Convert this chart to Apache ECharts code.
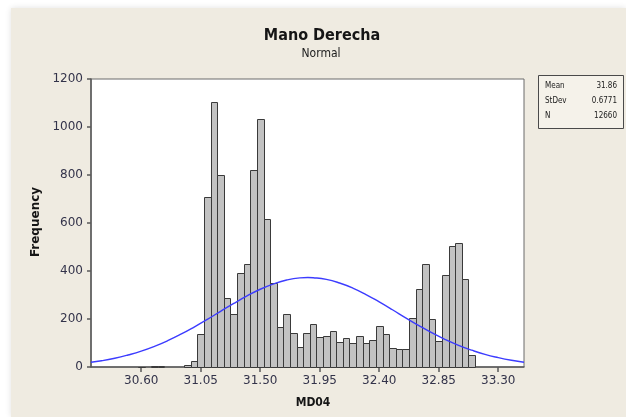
<!DOCTYPE html>
<html>
<head>
<meta charset="utf-8">
<script src="https://cdn.jsdelivr.net/npm/echarts@6/dist/echarts.min.js"></script>
<style>
  html, body { margin:0; padding:0; background:#ffffff; }
  #panel { position:absolute; left:11px; top:8px; width:615px; height:409px; background:#efebe1; box-shadow:0 0 6px rgba(0,0,0,0.12); }
  #chart { position:absolute; left:0; top:0; width:626px; height:417px; }
</style>
</head>
<body>
<div id="panel"></div>
<div id="chart"></div>
<script>
// ---- data ----
var binCenters = [30.60, 30.65, 30.70, 30.75, 30.80, 30.85, 30.90, 30.95, 31.00,
  31.05, 31.10, 31.15, 31.20, 31.25, 31.30, 31.35, 31.40, 31.45, 31.50,
  31.55, 31.60, 31.65, 31.70, 31.75, 31.80, 31.85, 31.90, 31.95, 32.00,
  32.05, 32.10, 32.15, 32.20, 32.25, 32.30, 32.35, 32.40, 32.45, 32.50,
  32.55, 32.60, 32.65, 32.70, 32.75, 32.80, 32.85, 32.90, 32.95, 33.00,
  33.05, 33.10];
var binCounts = [2, 0, 3, 4, 0, 0, 0, 8, 25,
  137, 708, 1105, 798, 288, 220, 393, 429, 819, 1035,
  617, 348, 165, 219, 140, 85, 140, 181, 124, 128,
  149, 103, 122, 101, 128, 102, 112, 171, 137, 79,
  73, 73, 205, 325, 429, 198, 109, 383, 506, 516,
  365, 49];
var binWidth = 0.05;

// fitted normal curve
var curveX = [30.22, 30.30, 30.40, 30.50, 30.60, 30.70, 30.80, 30.90, 31.00, 31.10,
  31.20, 31.30, 31.40, 31.50, 31.60, 31.70, 31.80, 31.86, 31.90, 32.00, 32.10,
  32.20, 32.30, 32.40, 32.50, 32.60, 32.70, 32.80, 32.90, 33.00, 33.10,
  33.20, 33.30, 33.40, 33.495];
var curveY = [20, 26, 36.5, 50, 66, 86, 109.5, 136.5, 166.5, 198.5,
  232, 265, 296, 324, 346, 362.5, 371.5, 373, 372, 365, 350,
  329, 302, 271, 238.5, 205, 172.5, 142, 114.5, 90.5, 70,
  52.5, 39, 28, 20];

var xTicks = [30.60, 31.05, 31.50, 31.95, 32.40, 32.85, 33.30];
var yTicks = [0, 200, 400, 600, 800, 1000, 1200];

var titleText = 'Mano Derecha';
var subtitleText = 'Normal';
var xName = 'MD04';
var yName = 'Frequency';
var statNames = ['Mean', 'StDev', 'N'];
var statValues = ['31.86', '0.6771', '12660'];

// ---- chart ----
var txtColor = '#33334a';
var chart = echarts.init(document.getElementById('chart'), null, {renderer:'canvas'});

var barData = binCenters.map(function(c, i){ return [c, binCounts[i]]; });
var lineData = curveX.map(function(x, i){ return [x, curveY[i]]; });

var statGraphics = [{
  type:'rect', shape:{x:538.5, y:75.5, width:85, height:53},
  style:{fill:'#f5f2ea', stroke:'#4a4a4a', lineWidth:1}
}];
statNames.forEach(function(n, i){
  statGraphics.push({type:'text', x:545, y:86 + i*15,
    style:{text:n, font:'8px "DejaVu Sans Condensed", "DejaVu Sans", sans-serif', fill:'#202020', verticalAlign:'middle', align:'left'}});
  statGraphics.push({type:'text', x:617, y:86 + i*15,
    style:{text:statValues[i], font:'8px "DejaVu Sans Condensed", "DejaVu Sans", sans-serif', fill:'#202020', verticalAlign:'middle', align:'right'}});
});

var option = {
  animation:false,
  backgroundColor:'transparent',
  grid:{left:91, top:79, width:433, height:288, show:true, backgroundColor:'#ffffff', borderColor:'#6a6a6a', borderWidth:1},
  xAxis:{
    type:'value', min:30.22, max:33.495,
    splitLine:{show:false},
    axisLine:{show:true, onZero:false, lineStyle:{color:'#5a5a5a', width:1.5}},
    axisTick:{show:true, length:5, customValues:xTicks, lineStyle:{color:'#5a5a5a', width:1.5}},
    axisLabel:{customValues:xTicks, formatter:function(v){ return Number(v).toFixed(2); },
      color:txtColor, fontSize:12, fontFamily:'"DejaVu Sans", sans-serif', margin:8}
  },
  yAxis:{
    type:'value', min:0, max:1200, interval:200,
    splitLine:{show:false},
    axisLine:{show:true, lineStyle:{color:'#5a5a5a', width:1.5}},
    axisTick:{show:true, length:4, lineStyle:{color:'#5a5a5a', width:1.5}},
    axisLabel:{color:txtColor, fontSize:12, fontFamily:'"DejaVu Sans", sans-serif', margin:8,
      formatter:function(v){ return String(v); }}
  },
  series:[
    {
      type:'custom',
      data:barData,
      encode:{x:0, y:1},
      renderItem:function(params, api){
        var c = api.value(0), v = api.value(1);
        if (!v) return null;
        var p0 = api.coord([c - binWidth/2, v]);
        var p1 = api.coord([c + binWidth/2, 0]);
        var x0 = Math.round(p0[0]) + 0.5, x1 = Math.round(p1[0]) + 0.5;
        var y0 = Math.round(p0[1]) + 0.5, y1 = Math.round(p1[1]) + 0.5;
        return {type:'rect', shape:{x:x0, y:y0, width:x1-x0, height:y1-y0},
          style:{fill:'#c2c2c2', stroke:'#3a3a3a', lineWidth:1}};
      },
      z:2
    },
    {
      type:'line', data:lineData, smooth:true, showSymbol:false, symbol:'none',
      lineStyle:{color:'#3c3cff', width:1.4}, z:3
    }
  ],
  graphic:[
    {type:'text', x:322, y:36, style:{text:titleText, font:'bold 16px "DejaVu Sans Condensed", "DejaVu Sans", sans-serif', fill:'#151515', align:'center', verticalAlign:'middle'}},
    {type:'text', x:321, y:54, style:{text:subtitleText, font:'12px "DejaVu Sans Condensed", "DejaVu Sans", sans-serif', fill:'#202020', align:'center', verticalAlign:'middle'}},
    {type:'text', x:313, y:403, style:{text:xName, font:'bold 12px "DejaVu Sans Condensed", "DejaVu Sans", sans-serif', fill:'#151515', align:'center', verticalAlign:'middle'}},
    {type:'text', x:36, y:222, rotation:Math.PI/2, style:{text:yName, font:'bold 12px "DejaVu Sans", sans-serif', fill:'#151515', align:'center', verticalAlign:'middle'}},
    {type:'group', children:statGraphics}
  ]
};
chart.setOption(option);
</script>
</body>
</html>
